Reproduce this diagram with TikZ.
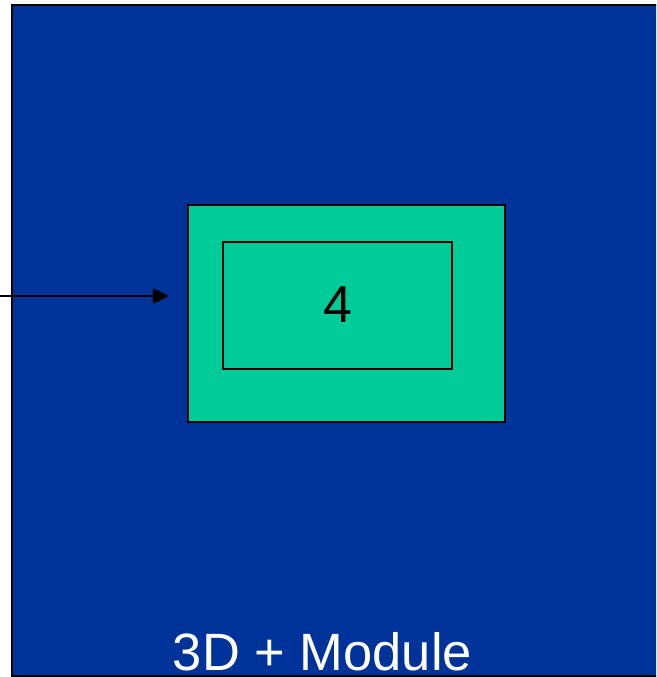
\documentclass[tikz,border=0pt]{standalone}
\usepackage{fontspec}
\setmainfont{Liberation Sans}
\usetikzlibrary{positioning,arrows.meta}
\definecolor{ModuloAzul}{RGB}{0,51,153}
\definecolor{ModuloVerde}{RGB}{0,204,153}
\tikzstyle{ModuloBase}=[rectangle, draw=black, fill=ModuloAzul, line width=2pt]
\tikzstyle{CajaExterna}=[rectangle, draw=black, fill=ModuloVerde, line width=2pt, minimum width=317pt, minimum height=217pt, inner sep=0pt]
\tikzstyle{CajaInterna}=[rectangle, draw=black, fill=ModuloVerde, line width=2pt, minimum width=229pt, minimum height=127pt, inner sep=0pt, font=\fontsize{52}{52}\selectfont]
\tikzstyle{Conector}=[-{Triangle[length=16pt,width=15pt]}, line width=2.5pt]

\begin{document}
\begin{tikzpicture}[x=1pt, y=-1pt]
			\useasboundingbox (0,0) rectangle (656,677);
			\clip (0,0) rectangle (656,677);

			%Fondo
			\draw[ModuloBase] (12,5) rectangle (700,676);

			%Nodos
			\node[CajaExterna]	(externa)	at (346.5,313.5)		{};
			\node[CajaInterna]	(interna)	at (337.5,305)			{4};
			\node[anchor=base, text=white, text depth=0pt, inner sep=1pt, font=\fontsize{52.5}{52.5}\selectfont] (modulo) at (322.5,670) {3D + Module};

			%Lineas
			\coordinate (entrada) at (0,296);
			\draw[Conector] (entrada) -- (entrada -| externa.west) [shorten >=18pt];

		\end{tikzpicture}
\end{document}
